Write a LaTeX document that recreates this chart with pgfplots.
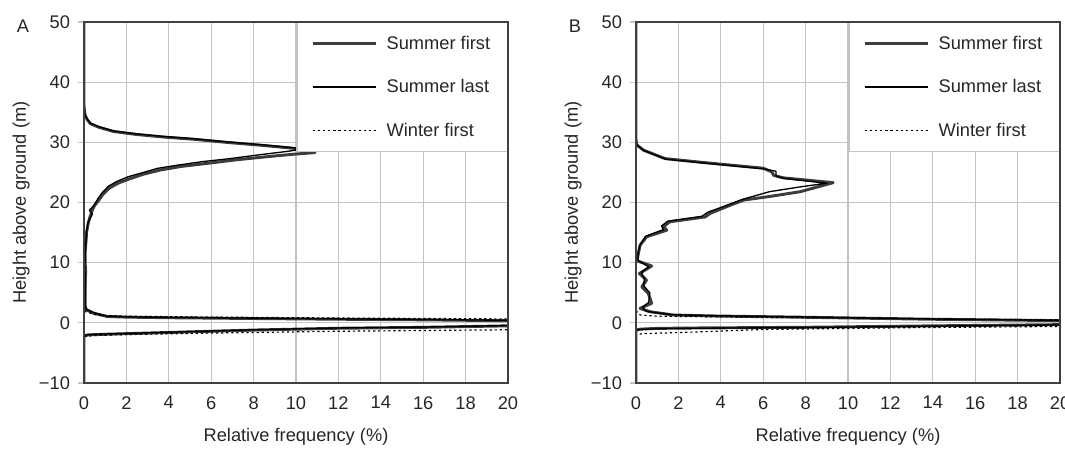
\documentclass[border=0pt]{standalone}
\usepackage{fontspec}
\setmainfont{Liberation Sans}
\usepackage{pgfplots}
\pgfplotsset{compat=1.18}
\definecolor{gridgray}{HTML}{C4C4C4}
\definecolor{framegray}{HTML}{404040}
\definecolor{sfirst}{HTML}{3C3C3C}

\newcommand{\lblfont}{\fontsize{13.7}{16}\selectfont}

\pgfplotsset{
  panel/.style={
    scale only axis, width=318pt, height=270.75pt,
    xmin=0, xmax=20, ymin=-10, ymax=50,
    xtick={0,2,4,6,8,10,12,14,16,18,20}, ytick={-10,0,10,20,30,40,50},
    xticklabels={0,2,4,6,8,10,12,14,16,18,20},
    yticklabels={−10,0,10,20,30,40,50},
    grid=major, grid style={gridgray, line width=0.8pt},
    axis line style={framegray, line width=1pt},
    tick align=outside, ytick pos=left, xtick pos=bottom,
    major tick length=4.5pt,
    ytick style={gridgray, line width=0.8pt},
    xtick style={draw=none},
    tick label style={font=\lblfont, text=black!85},
    xticklabel style={yshift=-2pt},
    yticklabel style={xshift=-2.5pt},
    every axis x label/.style={at={(axis description cs:0.5,-0.15)}, anchor=center},
    every axis y label/.style={at={(axis description cs:-0.148,0.5)}, anchor=center, rotate=90},
    label style={font=\lblfont, text=black!85},
    xlabel={Relative frequency (\%)},
    ylabel={Height above ground (m)},
    legend style={at={(1,1)}, anchor=north east, draw=gridgray, line width=0.8pt,
      fill=white, font=\lblfont, text=black!85, row sep=17.25pt,
      inner xsep=11pt, inner ysep=8pt,
      /tikz/every odd column/.append style={column sep=5pt}},
    legend cell align=left,
    legend image code/.code={\draw[#1] (0pt,0pt) -- (47pt,0pt);},
  },
  sumfirst/.style={sfirst, line width=2.2pt, line join=round},
  sumlast/.style={black, line width=1pt, line join=round},
  winfirst/.style={black, line width=0.9pt, dash pattern=on 1.6pt off 2.2pt},
}

\begin{document}
\begin{tikzpicture}
\path[use as bounding box] (0,0) rectangle (798.75pt,-337.5pt);

% panel A
\begin{axis}[panel, name=pa, at={(63pt,-287.25pt)}, anchor=south west]
\addplot[sumfirst] coordinates {
(0,50)(0,36)(0.05,34.5)(0.15,33.8)(0.3,33.1)(0.7,32.5)(1.4,31.8)(2.5,31.3)
(3.7,30.9)(5.2,30.5)(6.7,30.0)(8.4,29.5)(9.9,29.0)(10.9,28.3)(9.8,28.0)
(8.6,27.6)(7.2,27.1)(5.8,26.5)(4.6,26.0)(3.6,25.4)(2.8,24.7)(2.2,24.0)
(1.6,23.2)(1.2,22.4)(0.9,21.4)(0.7,20.4)(0.5,19.5)(0.4,18.8)(0.3,17.8)
(0.2,16.6)(0.12,15)(0.1,13.8)(0.06,12)(0.05,10)(0.08,8.5)(0.05,7)(0.05,3)
(0.1,2.2)(0.45,1.6)(1.1,1.05)(2,0.95)(4,0.85)(8,0.72)(12,0.6)(16,0.5)
(20,0.35)(24,0.2)(30,0)(24,-0.35)(20,-0.5)(16,-0.75)(12,-0.9)(8,-1.2)
(4,-1.6)(2,-1.8)(1,-1.9)(0.2,-2.0)(0,-2.2)(0,-10)
};
\addlegendentry{Summer first}
\addplot[sumlast] coordinates {
(0,50)(0,36)(0.05,34.6)(0.15,33.9)(0.3,33.2)(0.7,32.6)(1.4,31.9)(2.5,31.4)
(3.7,31.0)(5.2,30.6)(6.7,30.1)(8.4,29.6)(9.9,29.1)(10.25,28.85)(9.6,28.5)
(8.2,27.9)(6.9,27.3)(5.6,26.8)(4.4,26.2)(3.5,25.7)(2.7,24.9)(2.1,24.3)
(1.55,23.5)(1.15,22.7)(0.85,21.6)(0.65,20.6)(0.45,19.4)(0.25,18.7)(0.4,18.1)
(0.2,16.8)(0.12,15.1)(0.1,13.9)(0.06,12)(0.05,10)(0.05,8.5)(0.08,7)(0.05,3)
(0.1,2.3)(0.45,1.7)(1.1,1.1)(2,1.0)(4,0.9)(8,0.78)(12,0.66)(16,0.56)
(20,0.42)(24,0.25)(30,0)(24,-0.3)(20,-0.45)(16,-0.7)(12,-0.85)(8,-1.15)
(4,-1.55)(2,-1.75)(1,-1.85)(0.2,-1.95)(0,-2.1)(0,-10)
};
\addlegendentry{Summer last}
\addplot[winfirst] coordinates {
(0,50)(0,2.5)(0.1,1.8)(0.6,1.3)(2,1.1)(6,0.95)(12,0.8)(20,0.65)(30,0.4)
(30,-0.8)(20,-1.15)(12,-1.4)(6,-1.7)(2,-1.95)(0.5,-2.1)(0,-2.3)(0,-10)
};
\addlegendentry{Winter first}
\end{axis}
\draw[framegray, line width=1pt] (pa.south west) rectangle (pa.north east);

% panel B
\begin{axis}[panel, name=pb, at={(477pt,-287.25pt)}, anchor=south west]
\addplot[sumfirst] coordinates {
(0,50)(0,30.5)(0.03,29.6)(0.35,28.7)(1.37,27.3)(3.03,26.7)(6.0,25.7)
(6.4,25.1)(6.5,24.5)(6.95,24.1)(9.3,23.3)(7.75,21.8)(6.3,21.0)(5.07,20.4)
(4.2,19.2)(3.5,18.2)(3.26,17.6)(1.6,16.8)(1.3,16.0)(1.45,15.4)(0.5,14.3)
(0.19,12.9)(0.11,11.5)(0.05,10.3)(0.74,9.45)(0.16,8.2)(0.5,7.1)(0.27,6.0)
(0.58,4.9)(0.74,3.25)(0.19,2.4)(0.66,1.85)(1.76,1.3)(3.65,1.14)(7.9,0.93)
(13.9,0.6)(19.9,0.37)(30,0)(20,-0.3)(14,-0.5)(8,-0.74)(3,-0.85)(1,-0.92)
(0.2,-1.05)(0,-1.2)(0,-10)
};
\addlegendentry{Summer first}
\addplot[sumlast] coordinates {
(0,50)(0,30.3)(0.05,29.5)(0.4,28.6)(1.4,27.2)(3.1,26.6)(6.0,25.6)(6.6,25.2)
(6.6,24.4)(7.0,24.0)(9.0,23.2)(7.75,22.6)(6.3,21.8)(5.0,20.5)(4.1,19.3)
(3.4,18.4)(3.1,17.7)(1.5,16.9)(1.2,16.1)(1.3,15.5)(0.45,14.4)(0.2,13)
(0.1,11.6)(0.1,10.4)(0.6,9.3)(0.25,8.4)(0.4,7.3)(0.35,6.2)(0.65,5.0)
(0.6,3.4)(0.3,2.6)(0.5,1.9)(1.7,1.35)(3.6,1.2)(7.9,0.98)(13.9,0.65)
(19.9,0.42)(30,0)(20,-0.35)(14,-0.55)(8,-0.78)(3,-0.9)(1,-0.97)(0.2,-1.1)
(0,-1.25)(0,-10)
};
\addlegendentry{Summer last}
\addplot[winfirst] coordinates {
(0,50)(0,2)(0.2,1.3)(1,1.1)(4,1.0)(8,0.85)(14,0.65)(20,0.5)(30,0.2)
(30,-0.4)(20,-0.6)(13,-0.8)(6,-1.1)(3,-1.5)(0.3,-1.8)(0,-2)(0,-10)
};
\addlegendentry{Winter first}
\end{axis}
\draw[framegray, line width=1pt] (pb.south west) rectangle (pb.north east);

\node[font=\lblfont, text=black!85] at (17.25pt,-19.5pt) {A};
\node[font=\lblfont, text=black!85] at (431.25pt,-19.5pt) {B};
\end{tikzpicture}
\end{document}
